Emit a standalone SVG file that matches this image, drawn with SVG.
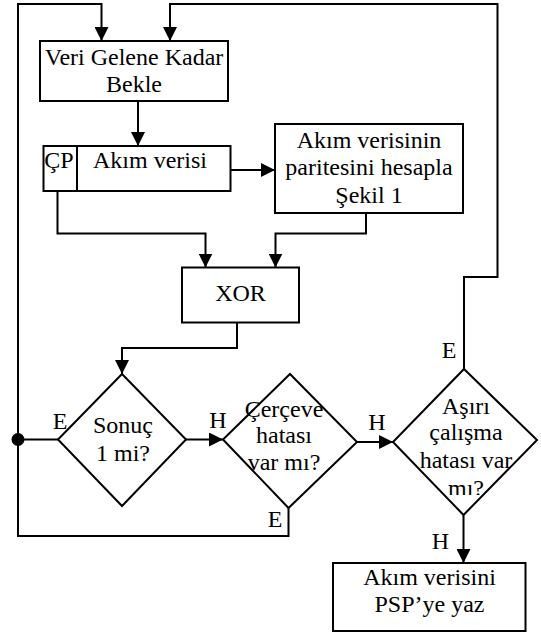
<svg xmlns="http://www.w3.org/2000/svg" width="541" height="634" viewBox="0 0 541 634" font-family="'Liberation Serif', 'Times New Roman', serif">
<style>
.s{fill:none;stroke:#000;stroke-width:2}
.b{fill:#fff;stroke:#000;stroke-width:2}
text{font-family:'Liberation Serif','Times New Roman',serif;font-size:24px;fill:#000;text-anchor:middle}
</style>
<defs>
<marker id="ah" viewBox="0 0 14 14" refX="14" refY="7" markerWidth="14" markerHeight="14" markerUnits="userSpaceOnUse" orient="auto">
<path d="M0,0 L14,7 L0,14 Z" fill="#000"/>
</marker>
<clipPath id="cl"><rect x="380" y="360" width="161" height="135"/></clipPath>
</defs>
<rect width="541" height="634" fill="#fff"/>
<g id="connectors" class="s">
<polyline points="18,537 18,4 101.5,4 101.5,41" marker-end="url(#ah)"/>
<polyline points="464,369 464,277 497.5,277 497.5,4 170,4 170,41" marker-end="url(#ah)"/>
<line x1="138" y1="101" x2="138" y2="146" marker-end="url(#ah)"/>
<line x1="229" y1="170" x2="275" y2="170" marker-end="url(#ah)"/>
<polyline points="57.5,191 57.5,233.5 205.5,233.5 205.5,267.5" marker-end="url(#ah)"/>
<polyline points="366,213 366,233.5 275.5,233.5 275.5,267.5" marker-end="url(#ah)"/>
<polyline points="237,322.5 237,348 122,348 122,374" marker-end="url(#ah)"/>
<line x1="18" y1="439.5" x2="58" y2="439.5"/>
<line x1="186" y1="439.5" x2="223" y2="439.5" marker-end="url(#ah)"/>
<line x1="357" y1="442" x2="393" y2="442" marker-end="url(#ah)"/>
<polyline points="288.5,508 288.5,536 18,536"/>
<line x1="463.5" y1="515" x2="463.5" y2="563" marker-end="url(#ah)"/>
<circle cx="18" cy="439.5" r="6.5" fill="#000" stroke="none"/>
</g>
<g id="n_wait">
<rect class="b" x="40" y="41" width="188" height="60"/>
<text x="134" y="65">Veri Gelene Kadar</text>
<text x="134" y="92">Bekle</text>
</g>
<g id="n_data">
<rect class="b" x="43.5" y="146" width="187" height="45"/>
<line class="s" x1="77" y1="146" x2="77" y2="191"/>
<text x="59" y="168">ÇP</text>
<text x="150" y="168">Akım verisi</text>
</g>
<g id="n_parity">
<rect class="b" x="275" y="124" width="188" height="89"/>
<text x="369" y="148">Akım verisinin</text>
<text x="369" y="175">paritesini hesapla</text>
<text x="369" y="203">Şekil 1</text>
</g>
<g id="n_xor">
<rect class="b" x="182" y="267.5" width="117" height="55"/>
<text x="240.5" y="301">XOR</text>
</g>
<g id="n_result">
<polygon class="b" points="122,374 186,439.5 122,506 58,439.5"/>
<text x="123" y="433">Sonuç</text>
<text x="123" y="461">1 mi?</text>
</g>
<g id="n_frame">
<polygon class="b" points="290,374 357,442 288.5,508 223,439.5"/>
<text x="284" y="417">Çerçeve</text>
<text x="284" y="443">hatası</text>
<text x="284" y="470">var mı?</text>
</g>
<g id="n_overrun">
<polygon class="b" points="464,369 537,440 463.5,515 393,442"/>
<text x="466" y="414">Aşırı</text>
<text x="466" y="440">çalışma</text>
<text x="466" y="468">hatası var</text>
<text x="466" y="496" clip-path="url(#cl)">mı?</text>
</g>
<g id="n_write">
<rect class="b" x="333" y="563" width="192.5" height="68"/>
<text x="429.5" y="585">Akım verisini</text>
<text x="429.5" y="612">PSP’ye yaz</text>
</g>
<g id="labels">
<text x="60" y="429">E</text>
<text x="218" y="428">H</text>
<text x="377" y="430">H</text>
<text x="449" y="358">E</text>
<text x="275" y="527">E</text>
<text x="440.5" y="549">H</text>
</g>
</svg>
